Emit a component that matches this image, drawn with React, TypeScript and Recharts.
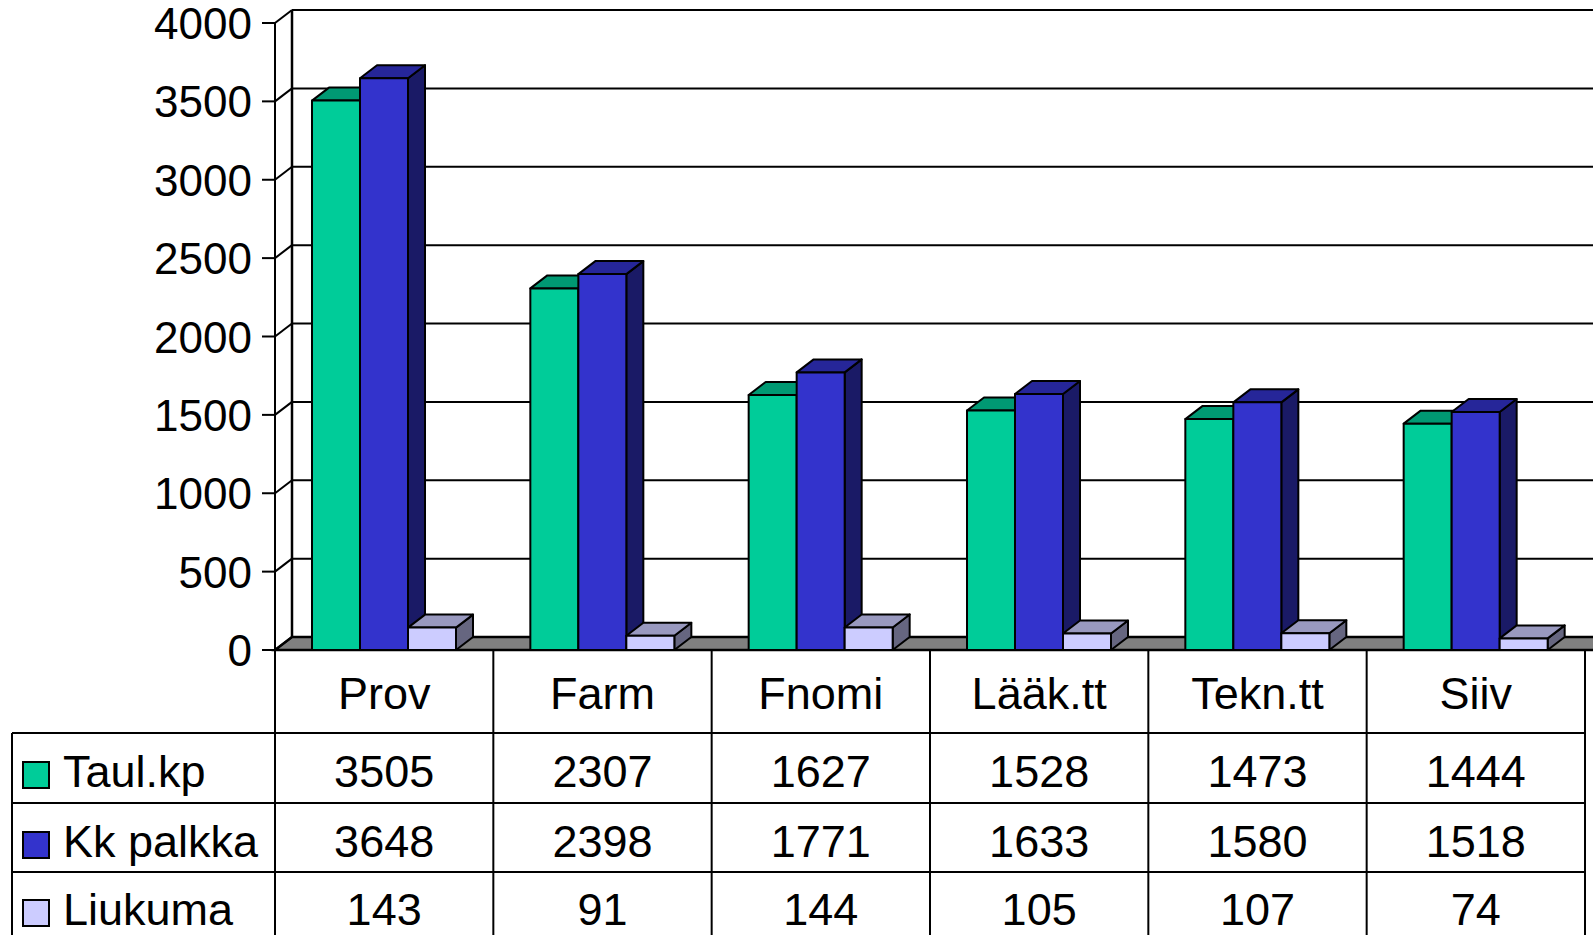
import React from "react";
import { BarChart, Bar, XAxis, YAxis, CartesianGrid } from "recharts";

const categories = ["Prov", "Farm", "Fnomi", "Lääk.tt", "Tekn.tt", "Siiv"];
const taulKp = [3505, 2307, 1627, 1528, 1473, 1444];
const kkPalkka = [3648, 2398, 1771, 1633, 1580, 1518];
const liukuma = [143, 91, 144, 105, 107, 74];
const yTicks = [0, 500, 1000, 1500, 2000, 2500, 3000, 3500, 4000];

const series = [
  { key: "taul", name: "Taul.kp", values: taulKp, front: "#00CC99", top: "#009973", side: "#006B52" },
  { key: "kk", name: "Kk palkka", values: kkPalkka, front: "#3333CC", top: "#262699", side: "#1A1A66" },
  { key: "liu", name: "Liukuma", values: liukuma, front: "#CCCCFF", top: "#9999BF", side: "#666680" },
];

const data = categories.map((name, i) => ({
  name,
  taul: taulKp[i],
  kk: kkPalkka[i],
  liu: liukuma[i],
}));

const FONT = '"Liberation Sans", Arial, sans-serif';
const FS = 45;
const W = 1593;
const H = 950;
const M_TOP = 23;
const M_RIGHT = 8;
const Y_W = 275;
const X_H = 300;
const PLOT_W = W - Y_W - M_RIGHT;
const COL_W = PLOT_W / categories.length;
const DX = 17;
const DY = 13;
const TABLE_LEFT = 12;
const ROW_LINES = [83, 153, 222, 292];
const ROW_BASE = [137, 207, 275];
const TABLE_BOTTOM = 300;

function Bar3D(props: any) {
  const { x, y, width, height, fill, topColor, sideColor } = props;
  if (width == null || height == null || isNaN(x) || isNaN(y)) return null;
  const r = x + width;
  const b = y + height;
  return (
    <g stroke="#000" strokeWidth={2} strokeLinejoin="round">
      <polygon points={`${r},${y} ${r + DX},${y - DY} ${r + DX},${b - DY} ${r},${b}`} fill={sideColor} />
      <polygon points={`${x},${y} ${x + DX},${y - DY} ${r + DX},${y - DY} ${r},${y}`} fill={topColor} />
      <rect x={x} y={y} width={width} height={height} fill={fill} />
    </g>
  );
}

// back wall, floor and gridlines drawn from the grid's own lines
const renderGridLine = (p: any) => {
  const { x1, y1, x2, index } = p;
  const top = p.y ?? M_TOP;
  const bottom = (p.y ?? M_TOP) + (p.height ?? H - M_TOP - X_H);
  const far = x2 + DX + 60;
  return (
    <g key={`grid-${index}`}>
      {index === 0 && (
        <>
          <polygon
            points={`${x1},${bottom} ${x1 + DX},${bottom - DY} ${far},${bottom - DY} ${far},${bottom}`}
            fill="#808080"
            stroke="#000"
            strokeWidth={2.5}
          />
          <line x1={x1 + DX} y1={top - DY} x2={x1 + DX} y2={bottom - DY} stroke="#000" strokeWidth={2.5} />
        </>
      )}
      <line x1={x1 + DX} y1={y1 - DY} x2={far} y2={y1 - DY} stroke="#000" strokeWidth={2} />
      <line x1={x1} y1={y1} x2={x1 + DX} y2={y1 - DY} stroke="#000" strokeWidth={2} />
    </g>
  );
};

function YTick(props: any) {
  const { x, y, payload } = props;
  return (
    <text x={x} y={y + 16} textAnchor="end" fontFamily={FONT} fontSize={44} fill="#000">
      {payload.value}
    </text>
  );
}

function TableColumn(props: any) {
  const { x, y, payload } = props;
  const i = props.index ?? categories.indexOf(payload.value);
  const left = x - COL_W / 2;
  const right = x + COL_W / 2;
  const ln = { stroke: "#000", strokeWidth: 2 };
  return (
    <g fontFamily={FONT} fontSize={FS} fill="#000">
      {i === 0 && <line x1={left} y1={y} x2={left} y2={y + TABLE_BOTTOM} {...ln} />}
      {i === 0 && <line x1={TABLE_LEFT} y1={y + ROW_LINES[0]} x2={TABLE_LEFT} y2={y + TABLE_BOTTOM} {...ln} />}
      <line x1={right} y1={y} x2={right} y2={y + TABLE_BOTTOM} {...ln} />
      {ROW_LINES.map((r) => (
        <line key={r} x1={i === 0 ? TABLE_LEFT : left} y1={y + r} x2={right} y2={y + r} {...ln} />
      ))}
      <text x={x} y={y + 59} textAnchor="middle">
        {payload.value}
      </text>
      {series.map((s, k) => (
        <text key={s.key} x={x} y={y + ROW_BASE[k]} textAnchor="middle">
          {s.values[i]}
        </text>
      ))}
      {i === 0 &&
        series.map((s, k) => (
          <g key={`lg-${s.key}`}>
            <rect x={23} y={y + ROW_BASE[k] - 25} width={26} height={26} fill={s.front} stroke="#000" strokeWidth={2} />
            <text x={63} y={y + ROW_BASE[k]} textAnchor="start">
              {s.name}
            </text>
          </g>
        ))}
    </g>
  );
}

export default function App() {
  return (
    <div
      style={{
        position: "absolute",
        left: 0,
        top: 0,
        width: W,
        height: 935,
        overflow: "hidden",
        background: "#fff",
      }}
    >
      <BarChart
        width={W}
        height={H}
        data={data}
        margin={{ top: M_TOP, right: M_RIGHT, left: 0, bottom: 0 }}
        barGap={0}
        barSize={48}
      >
        <CartesianGrid vertical={false} horizontal={renderGridLine} />
        <XAxis
          dataKey="name"
          height={X_H}
          axisLine={false}
          tickLine={false}
          tickSize={0}
          tickMargin={0}
          interval={0}
          tick={<TableColumn />}
        />
        <YAxis
          type="number"
          width={Y_W}
          domain={[0, 4000]}
          ticks={yTicks}
          interval={0}
          tickSize={13}
          tickMargin={10}
          axisLine={{ stroke: "#000", strokeWidth: 2 }}
          tickLine={{ stroke: "#000", strokeWidth: 2 }}
          tick={<YTick />}
        />
        {series.map((s) => (
          <Bar
            key={s.key}
            dataKey={s.key}
            name={s.name}
            fill={s.front}
            isAnimationActive={false}
            shape={(p: any) => <Bar3D {...p} topColor={s.top} sideColor={s.side} />}
          />
        ))}
      </BarChart>
    </div>
  );
}
